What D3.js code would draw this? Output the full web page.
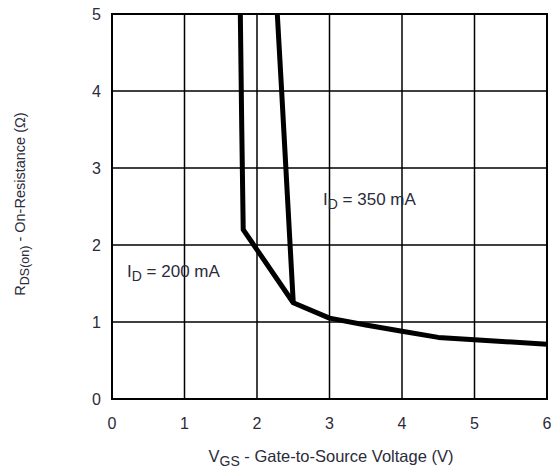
<!DOCTYPE html>
<html>
<head>
<meta charset="utf-8">
<script src="https://cdn.jsdelivr.net/npm/d3@7"></script>
<style>
body{margin:0;background:#fff;}
text{font-family:"Liberation Sans",Arial,sans-serif;fill:#2b2b3a;}
</style>
</head>
<body>
<svg id="chart" width="556" height="469"></svg>
<script>
const xTicks=[0,1,2,3,4,5,6];
const yTicks=[0,1,2,3,4,5];
// 200 mA curve (VGS, RDS)
const id200=[[1.77,5],[1.79,3.5],[1.81,2.2],[2.5,1.25],[3,1.05],[3.5,0.96],[4,0.88],[4.5,0.8],[5,0.77],[6,0.71]];
// 350 mA curve
const id350=[[2.28,5],[2.34,4],[2.5,1.25]];

const svg=d3.select('#chart');
const x=d3.scaleLinear().domain([0,6]).range([112,547]);
const y=d3.scaleLinear().domain([0,5]).range([399,14]);

//grid
const g=svg.append('g');
g.selectAll('.vx').data(xTicks).join('line')
    .attr('x1',d=>x(d)).attr('x2',d=>x(d))
    .attr('y1',y(0)).attr('y2',y(5))
    .attr('stroke','#000').attr('stroke-width',1.5);
g.selectAll('.hy').data(yTicks).join('line')
    .attr('y1',d=>y(d)).attr('y2',d=>y(d))
    .attr('x1',x(0)).attr('x2',x(6))
    .attr('stroke','#000').attr('stroke-width',1.5);
svg.append('rect').attr('x',x(0)).attr('y',y(5))
    .attr('width',x(6)-x(0)).attr('height',y(0)-y(5))
    .attr('fill','none').attr('stroke','#000').attr('stroke-width',2);

//tick labels
svg.selectAll('.xt').data(xTicks).join('text')
    .attr('x',d=>x(d)).attr('y',429).attr('text-anchor','middle')
    .attr('font-size',16).text(d=>d);
svg.selectAll('.yt').data(yTicks).join('text')
    .attr('x',101).attr('y',d=>y(d)+6).attr('text-anchor','end')
    .attr('font-size',16).text(d=>d);

//curves
const line=d3.line().x(d=>x(d[0])).y(d=>y(d[1]));
svg.append('clipPath').attr('id','clip').append('rect')
    .attr('x',x(0)).attr('y',y(5)).attr('width',x(6)-x(0)).attr('height',y(0)-y(5));
[id200,id350].forEach(c=>{
    svg.append('path').attr('d',line(c)).attr('clip-path','url(#clip)')
        .attr('fill','none').attr('stroke','#000').attr('stroke-width',5)
        .attr('stroke-linejoin','round');
});

//annotations
function idLabel(px,py,val){
    const t=svg.append('text').attr('x',px).attr('y',py).attr('font-size',17);
    t.append('tspan').text('I');
    t.append('tspan').attr('dy',4).attr('font-size',14).text('D');
    t.append('tspan').attr('dy',-4).text(' =  '+val);
}
idLabel(323,205,'350 mA');
idLabel(127,277,'200 mA');

//axis titles
const xt=svg.append('text').attr('x',331).attr('y',462).attr('text-anchor','middle').attr('font-size',16.5);
xt.append('tspan').text('V');
xt.append('tspan').attr('dy',4).attr('font-size',14).text('GS');
xt.append('tspan').attr('dy',-4).text(' - Gate-to-Source Voltage (V)');

const yt=svg.append('text').attr('transform','translate(25,204) rotate(-90)')
    .attr('text-anchor','middle').attr('font-size',14.5);
yt.append('tspan').text('R');
yt.append('tspan').attr('dy',4).attr('font-size',12.5).text('DS(on)');
yt.append('tspan').attr('dy',-4).text(' - On-Resistance (Ω)');
</script>
</body>
</html>
